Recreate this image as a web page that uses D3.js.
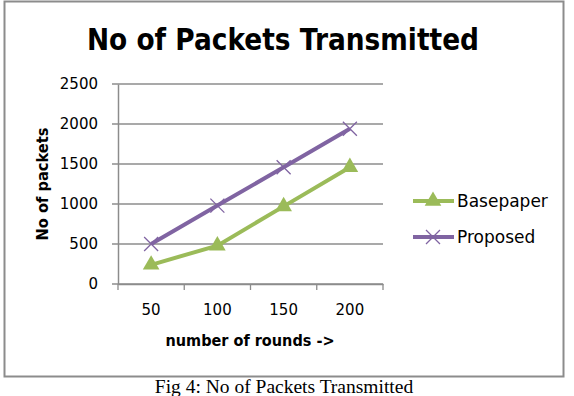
<!DOCTYPE html>
<meta charset="utf-8">
<html>
<head>
<script src="https://cdn.jsdelivr.net/npm/d3@7"></script>
<style>
  body { margin: 0; background: #fff; }
  text { font-family: "DejaVu Sans", sans-serif; }
  text.caption { font-family: "Liberation Serif", serif; }
</style>
</head>
<body>
<div id="chart"></div>
<script>
  // data
  const rounds = ["50", "100", "150", "200"];
  const basepaper = [240, 480, 970, 1460];
  const proposed = [500, 980, 1460, 1940];
  const yTicks = [0, 500, 1000, 1500, 2000, 2500];
  const seriesNames = ["Basepaper", "Proposed"];
  const seriesColors = ["#9bbb59", "#8064a2"];

  const W = 574, H = 396;
  const margin = {top: 84, left: 118};
  const width = 383 - 118, height = 284 - 84;

  const svg = d3.select("#chart").append("svg")
    .attr("width", W).attr("height", H);

  // outer chart frame
  svg.append("rect")
    .attr("x", 4.5).attr("y", 1.5)
    .attr("width", 559).attr("height", 375)
    .attr("fill", "#fff").attr("stroke", "#8c8c8c").attr("stroke-width", 2);

  // title
  svg.append("text")
    .attr("x", 283).attr("y", 50)
    .attr("text-anchor", "middle")
    .attr("font-weight", "bold").attr("font-size", 31)
    .attr("textLength", 392).attr("lengthAdjust", "spacingAndGlyphs")
    .text("No of Packets Transmitted");

  const g = svg.append("g")
    .attr("transform", `translate(${margin.left},${margin.top})`);

  const x = d3.scaleBand().domain(rounds).range([0, width]);
  const y = d3.scaleLinear().domain([0, 2500]).range([height, 0]);

  // grid lines
  g.selectAll(".grid")
    .data(yTicks)
    .join("line")
      .attr("x1", -6).attr("x2", width)
      .attr("y1", d => y(d)).attr("y2", d => y(d))
      .attr("stroke", "#8c8c8c").attr("stroke-width", 1.3);

  // y axis
  const yAxis = g.append("g")
    .call(d3.axisLeft(y).tickValues(yTicks).tickFormat(d3.format("d")).tickSize(0).tickPadding(20));
  yAxis.select(".domain").attr("stroke", "#8c8c8c").attr("stroke-width", 1.5);
  yAxis.selectAll("text").attr("font-size", 15).attr("fill", "#000")
    .attr("font-family", null);

  // x axis
  const xAxis = g.append("g")
    .attr("transform", `translate(0,${height})`)
    .call(d3.axisBottom(x).tickSize(0).tickPadding(20));
  xAxis.select(".domain").attr("stroke", "#8c8c8c").attr("stroke-width", 1.5);
  xAxis.selectAll("text").attr("font-size", 15).attr("fill", "#000")
    .attr("font-family", null);
  // tick marks between categories
  xAxis.selectAll(".sep")
    .data(d3.range(rounds.length + 1))
    .join("line")
      .attr("x1", i => i * x.bandwidth()).attr("x2", i => i * x.bandwidth())
      .attr("y1", 0).attr("y2", 6)
      .attr("stroke", "#8c8c8c").attr("stroke-width", 1.3);

  // axis titles
  svg.append("text")
    .attr("x", 250).attr("y", 346)
    .attr("text-anchor", "middle")
    .attr("font-weight", "bold").attr("font-size", 16)
    .attr("textLength", 169).attr("lengthAdjust", "spacingAndGlyphs")
    .text("number of rounds ->");

  svg.append("text")
    .attr("transform", "translate(48,184) rotate(-90)")
    .attr("text-anchor", "middle")
    .attr("font-weight", "bold").attr("font-size", 16)
    .attr("textLength", 113).attr("lengthAdjust", "spacingAndGlyphs")
    .text("No of packets");

  const line = d3.line()
    .x((d, i) => x(rounds[i]) + x.bandwidth() / 2)
    .y(d => y(d));

  const tri = d3.symbol().type(d3.symbolTriangle).size(120);

  // Basepaper
  g.append("path").datum(basepaper)
    .attr("d", line).attr("fill", "none")
    .attr("stroke", seriesColors[0]).attr("stroke-width", 4);
  g.selectAll(".tri")
    .data(basepaper)
    .join("path")
      .attr("d", tri)
      .attr("transform", (d, i) => `translate(${x(rounds[i]) + x.bandwidth() / 2},${y(d)})`)
      .attr("fill", seriesColors[0]);

  // Proposed
  g.append("path").datum(proposed)
    .attr("d", line).attr("fill", "none")
    .attr("stroke", seriesColors[1]).attr("stroke-width", 4);
  const cross = (cx, cy, s) => `M${cx - s},${cy - s}L${cx + s},${cy + s}M${cx - s},${cy + s}L${cx + s},${cy - s}`;
  g.selectAll(".cross")
    .data(proposed)
    .join("path")
      .attr("d", (d, i) => cross(x(rounds[i]) + x.bandwidth() / 2, y(d), 7))
      .attr("stroke", seriesColors[1]).attr("stroke-width", 1.3).attr("fill", "none");

  // legend
  const legendY = [201, 237];
  const lg = svg.append("g");
  seriesNames.forEach((name, i) => {
    lg.append("line")
      .attr("x1", 413).attr("x2", 454)
      .attr("y1", legendY[i]).attr("y2", legendY[i])
      .attr("stroke", seriesColors[i]).attr("stroke-width", 4);
    if (i === 0) {
      lg.append("path").attr("d", tri)
        .attr("transform", `translate(433,${legendY[i]})`)
        .attr("fill", seriesColors[i]);
    } else {
      lg.append("path").attr("d", cross(433, legendY[i], 7))
        .attr("stroke", seriesColors[i]).attr("stroke-width", 1.3);
    }
    lg.append("text")
      .attr("x", 457).attr("y", legendY[i] + 6)
      .attr("font-size", 17)
      .text(name);
  });

  // caption below frame
  svg.append("text")
    .attr("class", "caption")
    .attr("x", 284).attr("y", 393)
    .attr("text-anchor", "middle")
    .attr("font-size", 19.5)
    .text("Fig 4: No of Packets Transmitted");
</script>
</body>
</html>
